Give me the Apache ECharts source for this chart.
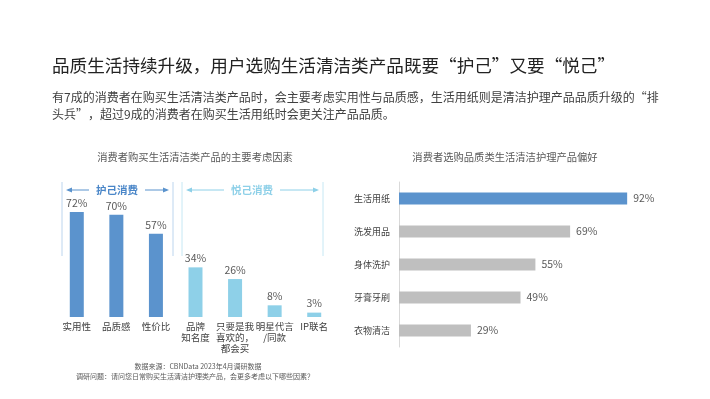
<!DOCTYPE html>
<html>
<head>
<meta charset="utf-8">
<script src="https://cdn.jsdelivr.net/npm/echarts@6/dist/echarts.min.js"></script>
<style>
  html, body { margin: 0; padding: 0; background: #fff; }
  #chart { width: 710px; height: 399px; }
</style>
</head>
<body>
<div id="chart"></div>
<script>
// 左图：主要考虑因素
const factorNames = ['实用性', '品质感', '性价比', '品牌\n知名度', '只要是我\n喜欢的，\n都会买', '明星代言\n/同款', 'IP联名']
const factorValues = [72, 70, 57, 34, 26, 8, 3]
const selfCareCount = 3 // 前3项属于“护己消费”

// 右图：品质类产品偏好
const productNames = ['生活用纸', '洗发用品', '身体洗护', '牙膏牙刷', '衣物清洁']
const productValues = [92, 69, 55, 49, 29]

const FONT = '"Noto Sans CJK SC", "Noto Sans", sans-serif'
const darkBlue = '#5b93cd'
const lightBlue = '#8ed0e8'
const gray = '#bfbfbf'

const chart = echarts.init(document.getElementById('chart'))

// 括号和箭头（注释用）
function bracket (x1, x2, textX, label, color, lineColor, txtColor) {
  const y = 190
  return [
    { type: 'line', shape: { x1: x1, y1: 182, x2: x1, y2: 256 }, style: { stroke: lineColor, lineWidth: 1 } },
    { type: 'line', shape: { x1: x2, y1: 182, x2: x2, y2: 256 }, style: { stroke: lineColor, lineWidth: 1 } },
    { type: 'line', shape: { x1: x1 + 6, y1: y, x2: textX - 28, y2: y }, style: { stroke: color, lineWidth: 1 } },
    { type: 'line', shape: { x1: textX + 28, y1: y, x2: x2 - 6, y2: y }, style: { stroke: color, lineWidth: 1 } },
    { type: 'polygon', shape: { points: [[x1 + 4, y], [x1 + 10, y - 2.5], [x1 + 10, y + 2.5]] }, style: { fill: color } },
    { type: 'polygon', shape: { points: [[x2 - 4, y], [x2 - 10, y - 2.5], [x2 - 10, y + 2.5]] }, style: { fill: color } },
    {
      type: 'text', x: textX, y: y,
      style: { text: label, fill: txtColor, font: 'bold 10.5px ' + FONT, align: 'center', verticalAlign: 'middle' }
    }
  ]
}

chart.setOption({
  animation: false,
  textStyle: { fontFamily: FONT },
  graphic: [
    {
      type: 'text', left: 52, top: 57,
      style: { text: '品质生活持续升级，用户选购生活清洁类产品既要“护己”又要“悦己”', fill: '#222', font: '17.6px ' + FONT }
    },
    {
      type: 'text', left: 52, top: 91,
      style: { text: '有7成的消费者在购买生活清洁类产品时，会主要考虑实用性与品质感，生活用纸则是清洁护理产品品质升级的“排', fill: '#404040', font: '12px ' + FONT }
    },
    {
      type: 'text', left: 52, top: 108,
      style: { text: '头兵”，超过9成的消费者在购买生活用纸时会更关注产品品质。', fill: '#404040', font: '12px ' + FONT }
    },
    {
      type: 'text', x: 195, y: 157,
      style: { text: '消费者购买生活清洁类产品的主要考虑因素', fill: '#595959', font: '10.3px ' + FONT, align: 'center', verticalAlign: 'middle' }
    },
    {
      type: 'text', x: 505, y: 157,
      style: { text: '消费者选购品质类生活清洁护理产品偏好', fill: '#595959', font: '10.3px ' + FONT, align: 'center', verticalAlign: 'middle' }
    },
    {
      type: 'text', x: 198, y: 366,
      style: { text: '数据来源：CBNData 2023年4月调研数据', fill: '#595959', font: '7px ' + FONT, align: 'center', verticalAlign: 'middle' }
    },
    {
      type: 'text', x: 195, y: 376,
      style: { text: '调研问题：请问您日常购买生活清洁护理类产品，会更多考虑以下哪些因素？', fill: '#595959', font: '7px ' + FONT, align: 'center', verticalAlign: 'middle' }
    }
  ]
    .concat(bracket(62, 173, 117, '护己消费', '#5b93cd', '#bcd5ee', '#4a86c8'))
    .concat(bracket(182, 323, 252, '悦己消费', '#8ed0e8', '#c6e8f4', '#8ed0e8')),
  grid: [
    { left: 57, top: 171, width: 277, height: 146 },
    { left: 399, top: 182, width: 248, height: 165 }
  ],
  xAxis: [
    {
      gridIndex: 0,
      type: 'category',
      data: factorNames,
      axisLine: { show: false },
      axisTick: { show: false },
      axisLabel: { color: '#404040', fontSize: 9.5, lineHeight: 11, margin: 4, interval: 0 }
    },
    {
      gridIndex: 1,
      type: 'value',
      min: 0,
      max: 100,
      show: false
    }
  ],
  yAxis: [
    {
      gridIndex: 0,
      type: 'value',
      min: 0,
      max: 100,
      show: false
    },
    {
      gridIndex: 1,
      type: 'category',
      inverse: true,
      data: productNames,
      axisLine: { show: true, lineStyle: { color: '#d9d9d9' } },
      axisTick: { show: false },
      axisLabel: { color: '#404040', fontSize: 9, margin: 9 }
    }
  ],
  series: [
    {
      type: 'bar',
      xAxisIndex: 0,
      yAxisIndex: 0,
      barWidth: 14,
      data: factorValues.map((v, i) => ({
        value: v,
        itemStyle: { color: i < selfCareCount ? darkBlue : lightBlue }
      })),
      label: { show: true, position: 'top', distance: 4, color: '#595959', fontSize: 10.5, formatter: '{c}%' }
    },
    {
      type: 'bar',
      xAxisIndex: 1,
      yAxisIndex: 1,
      barWidth: 12,
      data: productValues.map((v, i) => ({
        value: v,
        itemStyle: { color: i === 0 ? darkBlue : gray }
      })),
      label: { show: true, position: 'right', distance: 6, color: '#595959', fontSize: 10.5, formatter: '{c}%' }
    }
  ]
})
</script>
</body>
</html>
